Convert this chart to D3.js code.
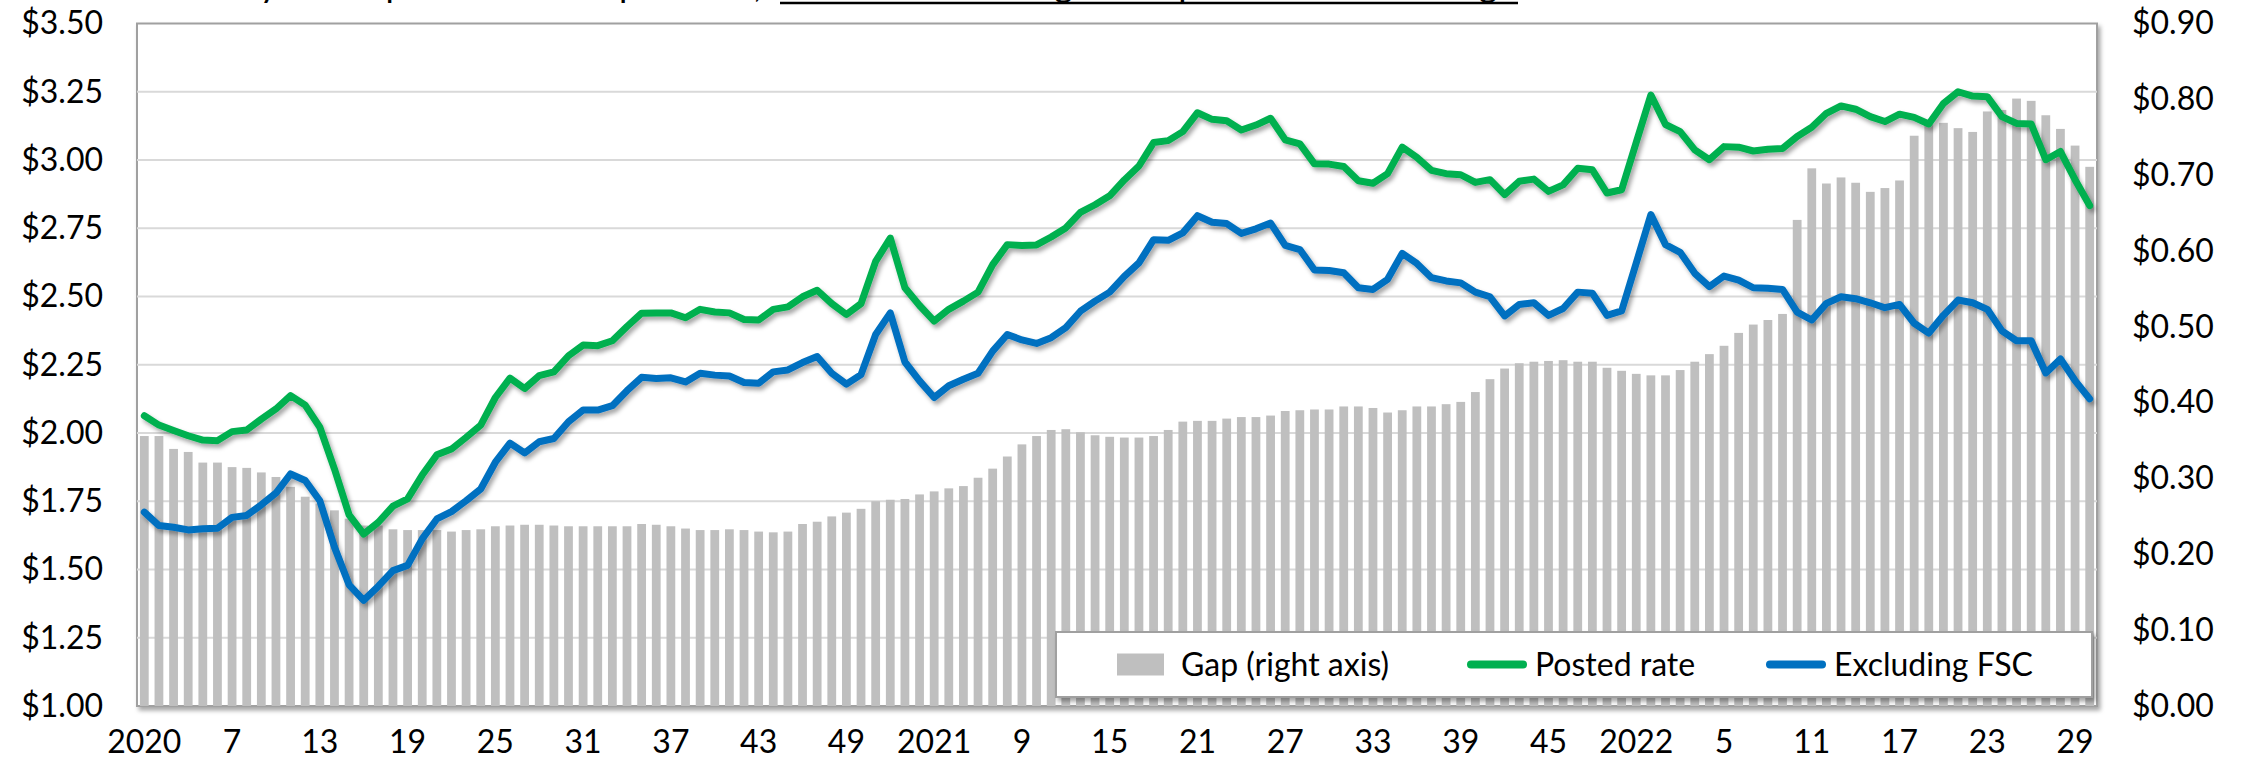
<!DOCTYPE html>
<html>
<head>
<meta charset="utf-8">
<script src="https://cdn.jsdelivr.net/npm/d3@7"></script>
<style>
  body { margin: 0; background: #fff; }
  svg { display: block; }
  text { font-family: Lato, "Open Sans", sans-serif; fill: #000; }
</style>
</head>
<body>
<svg width="2244" height="772"></svg>
<script>
// valores semanais, 2020 sem. 1 ate 2022 sem. 30
let posted = [
  2.063, 2.029, 2.009, 1.990, 1.974, 1.972, 2.005, 2.011, 2.051, 2.088,
  2.137, 2.102, 2.021, 1.868, 1.700, 1.630, 1.673, 1.732, 1.759, 1.846,
  1.920, 1.941, 1.984, 2.029, 2.130, 2.201, 2.163, 2.210, 2.224, 2.283,
  2.322, 2.320, 2.338, 2.390, 2.439, 2.440, 2.440, 2.422, 2.453, 2.443,
  2.440, 2.416, 2.414, 2.453, 2.462, 2.499, 2.523, 2.474, 2.434, 2.474,
  2.629, 2.714, 2.532, 2.467, 2.410, 2.453, 2.483, 2.516, 2.617, 2.690,
  2.687, 2.689, 2.718, 2.751, 2.808, 2.836, 2.869, 2.927, 2.978, 3.064,
  3.071, 3.104, 3.173, 3.149, 3.144, 3.110, 3.128, 3.153, 3.074, 3.059,
  2.986, 2.985, 2.976, 2.924, 2.915, 2.950, 3.047, 3.010, 2.962, 2.950,
  2.946, 2.918, 2.928, 2.873, 2.922, 2.930, 2.885, 2.909, 2.970, 2.964,
  2.879, 2.891, 3.065, 3.238, 3.130, 3.104, 3.037, 3.001, 3.049, 3.047,
  3.033, 3.039, 3.042, 3.086, 3.120, 3.171, 3.198, 3.186, 3.159, 3.141,
  3.168, 3.156, 3.132, 3.207, 3.250, 3.234, 3.232, 3.159, 3.134, 3.132,
  3.001, 3.031, 2.928, 2.833
];

let exFsc = [
  1.710, 1.661, 1.655, 1.645, 1.649, 1.651, 1.691, 1.698, 1.737, 1.780,
  1.850, 1.826, 1.752, 1.582, 1.444, 1.387, 1.439, 1.496, 1.515, 1.612,
  1.685, 1.712, 1.752, 1.795, 1.893, 1.963, 1.927, 1.968, 1.980, 2.041,
  2.084, 2.084, 2.100, 2.155, 2.204, 2.200, 2.202, 2.187, 2.219, 2.212,
  2.209, 2.185, 2.182, 2.224, 2.231, 2.258, 2.280, 2.219, 2.179, 2.214,
  2.361, 2.440, 2.260, 2.191, 2.130, 2.173, 2.197, 2.219, 2.300, 2.361,
  2.341, 2.328, 2.349, 2.386, 2.446, 2.483, 2.516, 2.574, 2.623, 2.708,
  2.706, 2.733, 2.796, 2.772, 2.767, 2.731, 2.748, 2.769, 2.687, 2.672,
  2.597, 2.595, 2.587, 2.532, 2.526, 2.563, 2.658, 2.621, 2.569, 2.557,
  2.550, 2.516, 2.499, 2.429, 2.471, 2.477, 2.431, 2.456, 2.516, 2.512,
  2.431, 2.447, 2.623, 2.800, 2.690, 2.662, 2.585, 2.536, 2.575, 2.560,
  2.532, 2.530, 2.526, 2.443, 2.414, 2.475, 2.499, 2.492, 2.477, 2.459,
  2.471, 2.402, 2.366, 2.431, 2.487, 2.477, 2.453, 2.374, 2.338, 2.338,
  2.220, 2.271, 2.192, 2.125
];

let gap = [
  0.356, 0.356, 0.339, 0.335, 0.321, 0.321, 0.315, 0.314, 0.308, 0.302,
  0.289, 0.276, 0.267, 0.258, 0.247, 0.238, 0.238, 0.233, 0.232, 0.232,
  0.232, 0.230, 0.232, 0.233, 0.237, 0.238, 0.239, 0.239, 0.238, 0.237,
  0.237, 0.237, 0.237, 0.237, 0.240, 0.239, 0.237, 0.234, 0.232, 0.232,
  0.233, 0.232, 0.230, 0.229, 0.230, 0.240, 0.243, 0.250, 0.255, 0.260,
  0.270, 0.272, 0.273, 0.279, 0.283, 0.287, 0.290, 0.301, 0.313, 0.329,
  0.345, 0.356, 0.364, 0.365, 0.361, 0.357, 0.355, 0.354, 0.354, 0.356,
  0.364, 0.375, 0.376, 0.376, 0.379, 0.381, 0.381, 0.383, 0.389, 0.390,
  0.391, 0.391, 0.395, 0.395, 0.393, 0.387, 0.390, 0.395, 0.395, 0.398,
  0.401, 0.414, 0.431, 0.445, 0.452, 0.454, 0.455, 0.456, 0.454, 0.454,
  0.446, 0.442, 0.438, 0.436, 0.436, 0.443, 0.454, 0.464, 0.475, 0.492,
  0.503, 0.509, 0.517, 0.641, 0.709, 0.689, 0.697, 0.690, 0.678, 0.683,
  0.693, 0.752, 0.767, 0.769, 0.762, 0.757, 0.784, 0.786, 0.801, 0.798,
  0.779, 0.761, 0.739, 0.711
];

// rotulos do eixo x, um a cada 6 semanas
let xLabels = ["2020", "7", "13", "19", "25", "31", "37", "43", "49",
  "2021", "9", "15", "21", "27", "33", "39", "45",
  "2022", "5", "11", "17", "23", "29"];
let labelStep = 6;

let leftTicks = [1.00, 1.25, 1.50, 1.75, 2.00, 2.25, 2.50, 2.75, 3.00, 3.25, 3.50];
let rightTicks = [0.00, 0.10, 0.20, 0.30, 0.40, 0.50, 0.60, 0.70, 0.80, 0.90];

let legendItems = [
  { nome: "Gap (right axis)", tipo: "bar", cor: "#bfbfbf" },
  { nome: "Posted rate", tipo: "line", cor: "#00b050" },
  { nome: "Excluding FSC", tipo: "line", cor: "#0070c0" }
];

let $svg = d3.select("svg");

let plot = { left: 137, right: 2097, top: 23.5, bottom: 706 };

let x = d3.scaleBand()
  .domain(d3.range(posted.length))
  .range([plot.left, plot.right])
  .paddingInner(0.4)
  .paddingOuter(0.2);

let yL = d3.scaleLinear().domain([1, 3.5]).range([plot.bottom, plot.top]);
let yR = d3.scaleLinear().domain([0, 0.9]).range([plot.bottom, plot.top]);

let centro = i => x(i) + x.bandwidth() / 2;

// sombra para linhas e moldura
let defs = $svg.append("defs");
defs.append("filter")
  .attr("id", "sombra")
  .attr("x", "-5%").attr("y", "-5%")
  .attr("width", "110%").attr("height", "120%")
  .append("feDropShadow")
  .attr("dx", 2.5).attr("dy", 3.5)
  .attr("stdDeviation", 2)
  .attr("flood-color", "#000")
  .attr("flood-opacity", 0.35);

defs.append("clipPath").attr("id", "clip")
  .append("rect")
  .attr("x", plot.left).attr("y", plot.top)
  .attr("width", plot.right - plot.left)
  .attr("height", plot.bottom - plot.top);

// titulo cortado no topo (so aparecem as hastes)
let titulo = $svg.append("text")
  .attr("y", -3)
  .style("font-size", "36px");
titulo.append("tspan")
  .attr("x", 214)
  .attr("textLength", 548)
  .text("Dry van spot rate comparison,");
titulo.append("tspan")
  .attr("x", 780)
  .attr("textLength", 738)
  .text("the fuel surcharge component is now large");
$svg.append("line")
  .attr("x1", 780).attr("x2", 1518)
  .attr("y1", 3).attr("y2", 3)
  .attr("stroke", "#000")
  .attr("stroke-width", 2.5);

// moldura com sombra
$svg.append("rect")
  .attr("x", plot.left).attr("y", plot.top)
  .attr("width", plot.right - plot.left)
  .attr("height", plot.bottom - plot.top)
  .attr("fill", "#fff")
  .attr("stroke", "#a0a0a0")
  .attr("stroke-width", 2)
  .attr("filter", "url(#sombra)");

// grade
$svg.append("g")
  .selectAll("line")
  .data(leftTicks.slice(1, -1))
  .join("line")
  .attr("x1", plot.left).attr("x2", plot.right)
  .attr("y1", d => yL(d)).attr("y2", d => yL(d))
  .attr("stroke", "#d9d9d9")
  .attr("stroke-width", 2);

let $plot = $svg.append("g").attr("clip-path", "url(#clip)");

$plot.selectAll("rect.gap")
  .data(gap)
  .join("rect")
  .classed("gap", true)
  .attr("x", (d, i) => x(i))
  .attr("width", x.bandwidth())
  .attr("y", d => yR(d))
  .attr("height", d => yR(0) - yR(d))
  .attr("fill", "#bfbfbf");

let linha = d3.line()
  .x((d, i) => centro(i))
  .y(d => yL(d));

[[posted, "#00b050"], [exFsc, "#0070c0"]].forEach(function(s) {
  $svg.append("path")
    .datum(s[0])
    .attr("d", linha)
    .attr("fill", "none")
    .attr("stroke", s[1])
    .attr("stroke-width", 7)
    .attr("stroke-linejoin", "round")
    .attr("stroke-linecap", "round")
    .attr("filter", "url(#sombra)");
});

// eixos
let fmt = d3.format("$.2f");

let axL = $svg.append("g")
  .attr("transform", `translate(${plot.left - 34},0)`)
  .call(d3.axisLeft(yL).tickValues(leftTicks).tickFormat(fmt).tickSize(0).tickPadding(0));

let axR = $svg.append("g")
  .attr("transform", `translate(${plot.right + 35},0)`)
  .call(d3.axisRight(yR).tickValues(rightTicks).tickFormat(fmt).tickSize(0).tickPadding(0));

let axX = $svg.append("g")
  .attr("transform", `translate(0,${plot.bottom + 24})`)
  .call(d3.axisBottom(x)
    .tickValues(d3.range(0, posted.length, labelStep))
    .tickFormat((d, i) => xLabels[i])
    .tickSize(0).tickPadding(0));

[axL, axR, axX].forEach(function(ax) {
  ax.select(".domain").remove();
  ax.selectAll("text")
    .style("font-family", "Lato, 'Open Sans', sans-serif")
    .style("font-size", "32px")
    .attr("fill", "#000");
});
axX.selectAll("text").attr("dy", "0.71em");

// legenda
let leg = { x: 1056, y: 632, w: 1036, h: 65 };
let $leg = $svg.append("g");
$leg.append("rect")
  .attr("x", leg.x).attr("y", leg.y)
  .attr("width", leg.w).attr("height", leg.h)
  .attr("fill", "#fff")
  .attr("stroke", "#a0a0a0")
  .attr("stroke-width", 2)
  .attr("filter", "url(#sombra)");

let legX = [1117, 1468, 1767];
let cy = leg.y + leg.h / 2;

let itens = $leg.selectAll("g.item")
  .data(legendItems)
  .join("g")
  .classed("item", true)
  .attr("transform", (d, i) => `translate(${legX[i]},${cy})`);

itens.filter(d => d.tipo === "bar")
  .append("rect")
  .attr("x", 0).attr("y", -11)
  .attr("width", 47).attr("height", 22)
  .attr("fill", d => d.cor);

itens.filter(d => d.tipo === "line")
  .append("line")
  .attr("x1", 3).attr("x2", 55)
  .attr("stroke", d => d.cor)
  .attr("stroke-width", 8)
  .attr("stroke-linecap", "round");

itens.append("text")
  .attr("x", d => d.tipo === "bar" ? 64 : 67)
  .attr("dy", "0.35em")
  .style("font-size", "32px")
  .text(d => d.nome);
</script>
</body>
</html>
